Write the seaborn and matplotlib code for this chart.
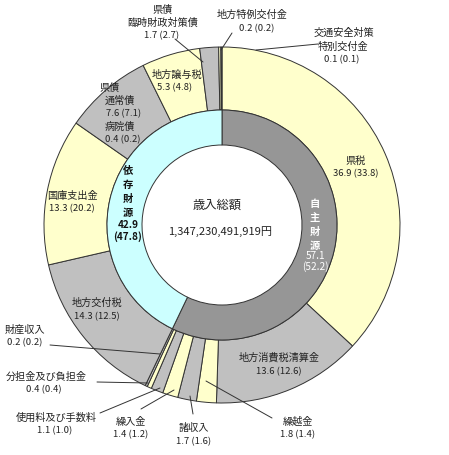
import matplotlib
matplotlib.use("Agg")
import matplotlib.pyplot as plt
import seaborn as sns

W, H = 449, 455

# ---- data ----
outer_names = ["県税", "地方消費税清算金", "繰越金", "諸収入", "繰入金", "使用料及び手数料",
               "分担金及び負担金", "財産収入", "地方交付税", "国庫支出金", "県債(通常債・病院債)",
               "地方譲与税", "県債 臨時財政対策債", "地方特例交付金", "交通安全対策特別交付金"]
outer_values = [36.9, 13.6, 1.8, 1.7, 1.4, 1.1, 0.4, 0.2, 14.3, 13.3, 8.0, 5.3, 1.7, 0.2, 0.1]
outer_prev = [33.8, 12.6, 1.4, 1.6, 1.2, 1.0, 0.4, 0.2, 12.5, 20.2, 7.3, 4.8, 2.7, 0.2, 0.1]
inner_names = ["自主財源", "依存財源"]
inner_values = [57.1, 42.9]
inner_prev = [52.2, 47.8]
total_label = "歳入総額"
total_value = "1,347,230,491,919円"

YEL = "#FFFFCC"
GRY = "#C0C0C0"
outer_colors = [YEL, GRY, YEL, GRY, YEL, GRY, YEL, GRY, GRY, YEL, GRY, YEL, GRY, YEL, GRY]
inner_colors = ["#969696", "#CCFFFF"]

sns.set_theme(style="white")
plt.rcParams['font.family'] = ['Noto Sans CJK JP', 'DejaVu Sans']

fig = plt.figure(figsize=(W / 100, H / 100), dpi=100)
ax = fig.add_axes([0, 0, 1, 1])

cx, cy = 222, H - 225
R_out, R_mid, R_in = 178, 115, 80
ec = "#333333"

ax.pie(outer_values, colors=outer_colors, startangle=90, counterclock=False,
       radius=R_out, center=(cx, cy),
       wedgeprops=dict(width=R_out - R_mid, edgecolor=ec, linewidth=0.7))
ax.pie(inner_values, colors=inner_colors, startangle=90, counterclock=False,
       radius=R_mid, center=(cx, cy),
       wedgeprops=dict(width=R_mid - R_in, edgecolor=ec, linewidth=0.7))

ax.set_xlim(0, W)
ax.set_ylim(0, H)
ax.set_aspect("equal")
ax.axis("off")

FS = 7.3   # CJK label size
FN = 6.8   # number size

def t(x, y, s, **kw):
    kw.setdefault("fontsize", FS)
    kw.setdefault("color", "#222222")
    ax.text(x, H - y, s, ha="center", va="center", **kw)

def n(x, y, s, **kw):
    kw.setdefault("fontsize", FN)
    t(x, y, s, **kw)

def line(x1, y1, x2, y2):
    ax.plot([x1, x2], [H - y1, H - y2], color="#333333", lw=0.7)

def val(i):
    return f"{outer_values[i]} ({outer_prev[i]})"

# outer labels
t(163, 10, "県債")
t(163, 23, "臨時財政対策債")
n(162, 36, val(12))
line(175, 39, 203, 62)

t(252, 15, "地方特例交付金")
n(257, 29, val(13))
line(232, 33, 221, 50)

t(344, 33, "交通安全対策")
t(343, 47, "特別交付金")
n(342, 60, val(14))
line(318, 44, 256, 50)

t(177, 75, "地方譲与税")
n(175, 88, val(11))

t(110, 88, "県債")
t(120, 101, "通常債")
n(124, 114, "7.6 (7.1)")
t(120, 127, "病院債")
n(123, 140, "0.4 (0.2)")

t(72, 196, outer_names[9])
n(72, 209, val(9))

t(356, 161, outer_names[0])
n(356, 174, val(0))

t(97, 303, outer_names[8])
n(97, 317, val(8))

t(25, 330, outer_names[7])
n(25, 343, val(7))
line(50, 345, 160, 354)

t(46, 377, outer_names[6])
n(44, 390, val(6))
line(97, 382, 148, 383)

t(56, 418, outer_names[5])
n(55, 431, val(5))
line(100, 413, 160, 388)

t(131, 422, outer_names[4])
n(131, 435, val(4))
line(141, 409, 174, 390)

t(194, 428, outer_names[3])
n(194, 442, val(3))
line(193, 414, 190, 396)

t(279, 358, outer_names[1])
n(279, 372, val(1))

t(298, 422, outer_names[2])
n(298, 435, val(2))
line(272, 418, 206, 381)

# inner labels
for k, ch in enumerate(inner_names[1]):
    t(128, 171 + k * 14, ch, fontweight="bold", fontsize=7.4, color="#111111")
n(128, 225, f"{inner_values[1]}", fontweight="bold", fontsize=7.2, color="#111111")
n(128, 237, f"({inner_prev[1]})", fontweight="bold", fontsize=7.2, color="#111111")

for k, ch in enumerate(inner_names[0]):
    t(315, 204 + k * 14, ch, fontweight="bold", fontsize=7.4, color="white")
n(315, 256, f"{inner_values[0]}", fontsize=7.2, color="white")
n(315, 267, f"({inner_prev[0]})", fontsize=7.2, color="white")

t(217, 205, total_label, fontsize=8.8)
t(220, 232, total_value, fontsize=8.0)

fig.savefig("out.png", dpi=100, facecolor="white")
